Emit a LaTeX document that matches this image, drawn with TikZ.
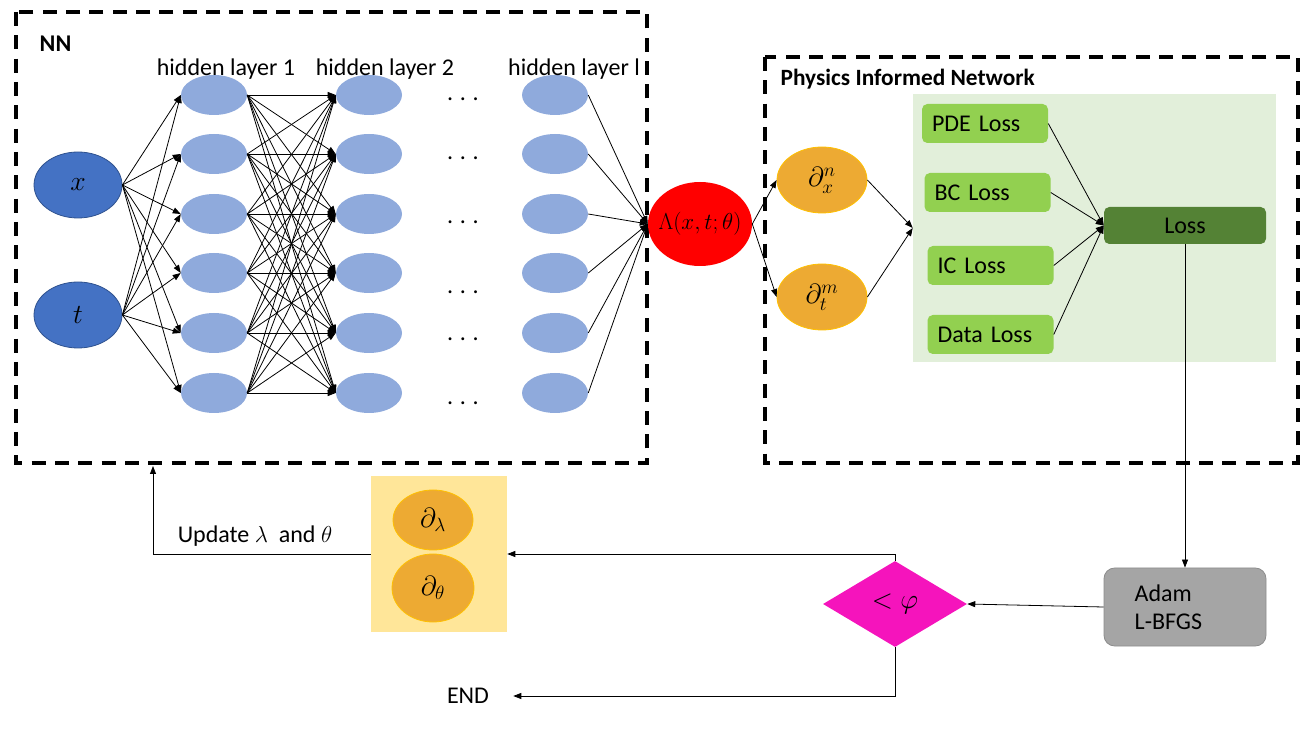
\documentclass[tikz,border=0pt]{standalone}
\usepackage{fontspec}
\setmainfont{Carlito}
\usetikzlibrary{shapes.geometric,arrows.meta}
\definecolor{inpblue}{HTML}{4472C4}
\definecolor{inpborder}{HTML}{2F528F}
\definecolor{hidblue}{HTML}{8FAADC}
\definecolor{orng}{HTML}{EDAA33}
\definecolor{orngb}{HTML}{FFC000}
\definecolor{lgreen}{HTML}{E2EFDA}
\definecolor{mgreen}{HTML}{92D050}
\definecolor{dgreen}{HTML}{548235}
\definecolor{gry}{HTML}{A5A5A5}
\definecolor{gryb}{HTML}{8C8C8C}
\definecolor{magent}{HTML}{F514BC}
\definecolor{yel}{HTML}{FFE699}
\begin{document}
\begin{tikzpicture}[x=0.75pt,y=-0.75pt,
  every node/.style={font=\fontsize{18}{21}\selectfont},
  mth/.style={font=\fontsize{20.5}{24}\selectfont},
  conn/.style={line width=0.6pt,-{Triangle[length=6pt,width=4.5pt]}},
  dbox/.style={draw,line width=2.3pt,dash pattern=on 10.5pt off 7pt},
  inp/.style={ellipse,fill=inpblue,draw=inpborder,line width=0.6pt,minimum width=66pt,minimum height=49.5pt,inner sep=0pt,mth},
  hid/.style={ellipse,fill=hidblue,minimum width=49.5pt,minimum height=30pt,inner sep=0pt},
  orn/.style={ellipse,fill=orng,draw=orngb,line width=0.6pt,inner sep=0pt,mth},
  lossbox/.style={rectangle,rounded corners=4pt,fill=mgreen,minimum width=94.5pt,minimum height=29.25pt,text width=79.5pt,align=left,inner xsep=7.5pt,inner ysep=0pt},
  dots/.style={inner sep=0pt}
]
\useasboundingbox (0,0) rectangle (1311,741);

% dashed boxes
\draw[dbox] (16,12) rectangle (647,463);
\draw[dbox] (765,57) rectangle (1298,463);
\node[font=\fontsize{18}{21}\selectfont\bfseries,anchor=west] (nnlab) at (35,44) {NN};
\node[font=\fontsize{17.5}{21}\selectfont\bfseries,anchor=west] (pinlab) at (776,79) {Physics Informed Network};

% green background
\node[fill=lgreen,minimum width=272.25pt,minimum height=201pt,inner sep=0pt] (gbg) at (1094.5,228) {};
% yellow box
\node[fill=yel,minimum width=102pt,minimum height=117pt,inner sep=0pt] (yb) at (439,554) {};

% inputs
\node[inp] (x) at (78,185) {$x$};
\node[inp] (t) at (78,315) {$t$};

% hidden layers
\foreach \y [count=\i] in {95,154,214,273,333,393} {
  \node[hid] (a\i) at (214,\y) {};
  \node[hid] (b\i) at (369,\y) {};
  \node[hid] (c\i) at (555,\y) {};
}
\foreach \y [count=\i] in {99,158,222,292,339,403} {
  \node[dots] (d\i) at (463,\y) {.\hspace{5pt}.\hspace{5pt}.};
}
\node (hl1) at (226,69) {hidden layer 1};
\node (hl2) at (385,69) {hidden layer 2};
\node (hll) at (574,69) {hidden layer l};

% output
\node[ellipse,fill=red,minimum width=78pt,minimum height=63pt,inner xsep=-10pt,inner ysep=0pt,font=\fontsize{18.5}{22}\selectfont] (lam) at (700,224) {$\Lambda(x,t;\theta)$};

% edges in network
\foreach \i in {1,...,6} {
  \draw[conn] (x.east) -- (a\i.west);
  \draw[conn] (t.east) -- (a\i.west);
  \draw[conn] (c\i.east) -- (lam.west);
  \foreach \j in {1,...,6} {
    \draw[conn] (a\i.east) -- (b\j.west);
  }
}

% derivatives
\node[orn,minimum width=67.5pt,minimum height=49.5pt] (dx) at (822,180) {$\partial_x^n$};
\node[orn,minimum width=67.5pt,minimum height=49.5pt] (dt) at (822,297) {$\partial_t^m$};
\draw[conn] (lam.east) -- (dx.west);
\draw[conn] (lam.east) -- (dt.west);
\draw[conn] (dx.east) -- (gbg.west);
\draw[conn] (dt.east) -- (gbg.west);

% losses
\node[lossbox] (pde) at (985,123.5) {PDE Loss};
\node[lossbox] (bc) at (987.5,192.5) {BC Loss};
\node[lossbox] (ic) at (990.5,265.5) {IC Loss};
\node[lossbox] (data) at (990.5,334.5) {Data Loss};
\node[rectangle,rounded corners=4pt,fill=dgreen,minimum width=121.5pt,minimum height=27.75pt,inner sep=0pt] (loss) at (1185,225.5) {Loss};
\draw[conn] (pde.east) -- (loss.west);
\draw[conn] (bc.east) -- (loss.west);
\draw[conn] (ic.east) -- (loss.west);
\draw[conn] (data.east) -- (loss.west);

% optimizer
\node[rectangle,rounded corners=8pt,fill=gry,draw=gryb,line width=0.6pt,minimum width=121.5pt,minimum height=58.5pt,text width=75.5pt,inner xsep=23pt,align=left] (adam) at (1185,607) {Adam\\L-BFGS};
\draw[conn] (loss.south) -- (adam.north);

\node[diamond,fill=magent,minimum width=108pt,minimum height=64.5pt,inner sep=0pt,aspect=1.67,mth] (dia) at (895,604) {$<\varphi$};
\draw[conn] (adam.west) -- (dia.east);

% update block
\node[orn,minimum width=60pt,minimum height=45pt] (dl) at (433,520) {$\partial_\lambda$};
\node[orn,minimum width=61.5pt,minimum height=51pt] (dth) at (433,588) {$\partial_\theta$};
\draw[conn] (dia.north) |- (yb.east);

\node[inner xsep=18pt] (endn) at (468,696) {END};
\draw[conn] (dia.south) |- (endn.east);

\coordinate (upd) at (153,466);
\draw[conn] (yb.west) -| (upd);
\node (updlab) at (255,536) {Update $\lambda$\ \ and $\theta$};
\end{tikzpicture}
\end{document}
